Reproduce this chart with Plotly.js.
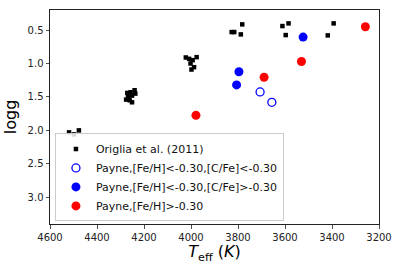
<!DOCTYPE html>
<html>
<head>
<meta charset="utf-8">
<script src="https://cdn.plot.ly/plotly-3.0.1.min.js"></script>
<style>html,body{margin:0;padding:0;background:#fff;}#chart{width:399px;height:268px;}</style>
</head>
<body>
<div id="chart"></div>
<script>
// Origlia et al. (2011)
const origliaTeff = [4519, 4498, 4477,
  4271, 4257, 4240, 4237, 4268, 4251, 4276, 4261, 4251,
  4022, 4008, 3993, 3976, 4002, 3987, 3998,
  3827, 3816, 3788, 3782, 3611, 3585, 3597, 3418, 3393];
const origliaLogg = [2.03, 2.06, 2.00,
  1.44, 1.43, 1.40, 1.45, 1.50, 1.48, 1.54, 1.55, 1.58,
  0.91, 0.93, 0.95, 0.905, 1.00, 1.055, 1.09,
  0.53, 0.53, 0.565, 0.415, 0.44, 0.40, 0.575, 0.58, 0.40];
// Payne, [Fe/H]<-0.30, [C/Fe]<-0.30
const lowCTeff = [3706, 3656];
const lowCLogg = [1.425, 1.58];
// Payne, [Fe/H]<-0.30, [C/Fe]>-0.30
const highCTeff = [3523, 3796, 3806];
const highCLogg = [0.605, 1.124, 1.32];
// Payne, [Fe/H]>-0.30
const richTeff = [3979, 3258, 3530, 3689];
const richLogg = [1.775, 0.45, 0.97, 1.205];

const names = ["Origlia et al. (2011)", "Payne,[Fe/H]<-0.30,[C/Fe]<-0.30",
  "Payne,[Fe/H]<-0.30,[C/Fe]>-0.30", "Payne,[Fe/H]>-0.30"];

const traces = [
  {x: origliaTeff, y: origliaLogg, mode: "markers", type: "scatter", name: names[0],
   marker: {symbol: "square", size: 4.5, color: "black"}},
  {x: lowCTeff, y: lowCLogg, mode: "markers", type: "scatter", name: names[1],
   marker: {symbol: "circle-open", size: 8, color: "blue", line: {width: 1.3, color: "blue"}}},
  {x: highCTeff, y: highCLogg, mode: "markers", type: "scatter", name: names[2],
   marker: {symbol: "circle", size: 9, color: "blue"}},
  {x: richTeff, y: richLogg, mode: "markers", type: "scatter", name: names[3],
   marker: {symbol: "circle", size: 9, color: "red"}}
];

const axisCommon = {
  showline: true, mirror: true, linecolor: "#222", linewidth: 1,
  ticks: "outside", ticklen: 3.5, tickwidth: 0.8, tickcolor: "#222",
  showgrid: false, zeroline: false,
  tickfont: {family: "DejaVu Sans", size: 10, color: "#222"}
};

const layout = {
  width: 399, height: 268,
  margin: {l: 50, r: 20, t: 10, b: 44},
  paper_bgcolor: "#fff", plot_bgcolor: "#fff",
  showlegend: true,
  xaxis: Object.assign({}, axisCommon, {
    range: [4600, 3200], tick0: 3200, dtick: 200,
    title: {text: "<i>T</i><sub>eff</sub> (<i>K</i>)", standoff: 4,
            font: {family: "DejaVu Sans", size: 16, color: "#000"}}
  }),
  yaxis: Object.assign({}, axisCommon, {
    range: [3.4, 0.2], tick0: 0.5, dtick: 0.5, tickformat: ".1f",
    title: {text: "logg", standoff: 6, font: {family: "DejaVu Sans", size: 16, color: "#000"}}
  }),
  legend: {
    x: 0.015, y: 0.012, xanchor: "left", yanchor: "bottom",
    bgcolor: "rgba(255,255,255,0.85)", bordercolor: "#ccc", borderwidth: 1,
    font: {family: "DejaVu Sans", size: 11, color: "#111"},
    itemwidth: 30, tracegroupgap: 0
  }
};

Plotly.newPlot("chart", traces, layout, {displayModeBar: false, staticPlot: true});
</script>
</body>
</html>
